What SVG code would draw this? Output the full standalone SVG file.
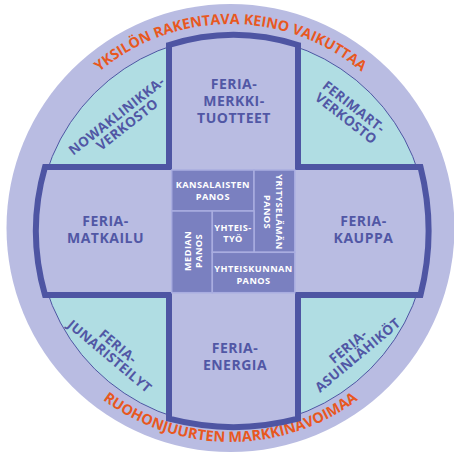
<svg xmlns="http://www.w3.org/2000/svg" width="454" height="454" viewBox="0 0 454 454">
<style>
.lbl{font-family:"Open Sans","Noto Sans",sans-serif;font-weight:700;font-size:14px;fill:#5157a5;text-anchor:middle;letter-spacing:0.5px}
.q{font-family:"Open Sans","Noto Sans",sans-serif;font-weight:700;font-size:13.5px;fill:#5157a5;text-anchor:middle;letter-spacing:0.4px}
.cell{fill:#7a80c0;stroke:#a9ade0;stroke-width:1.5}
.ct{font-family:"Open Sans","Noto Sans",sans-serif;font-weight:700;font-size:9.2px;fill:#ffffff;text-anchor:middle;letter-spacing:0.45px}
.arc{font-family:"Open Sans","Noto Sans",sans-serif;font-weight:700;fill:#e8581f;text-anchor:middle}
</style>
<defs>
<path id="topArc" d="M26.5,228 A204,204 0 0 1 434.5,228"/>
<path id="botArc" d="M16.5,228 A214,214 0 0 0 444.5,228"/>
</defs>
<g id="ring">
<circle cx="230.5" cy="228" r="224" fill="#b9bce2"/>
<text class="arc" font-size="14.3"><textPath href="#topArc" startOffset="50%">YKSILÖN RAKENTAVA KEINO VAIKUTTAA</textPath></text>
<text class="arc" font-size="14.5"><textPath href="#botArc" startOffset="50%">RUOHONJUURTEN MARKKINAVOIMAA</textPath></text>
</g>
<g id="quadrants">
<circle cx="232.5" cy="231" r="195" fill="#b0dde3" stroke="#4e55a3" stroke-width="1"/>
</g>
<g id="cross">
<path d="M169,45 A213,213 0 0 1 298,45 L298,167 L420.5,167 A260,260 0 0 1 420.5,295 L298,295 L298,418.7 A255,255 0 0 1 169,418.7 L169,295 L45,295 A232,232 0 0 1 45,167 L169,167 Z" fill="#b9bce2" stroke="#4e55a3" stroke-width="6" stroke-linejoin="miter"/>
</g>
<g id="node-merkkituotteet">
<text class="lbl" x="234" y="89.3">FERIA-</text>
<text class="lbl" x="234" y="106.3">MERKKI-</text>
<text class="lbl" x="234" y="123.3">TUOTTEET</text>
</g>
<g id="node-matkailu">
<text class="lbl" x="105.5" y="226">FERIA-</text>
<text class="lbl" x="105.5" y="242.7">MATKAILU</text>
</g>
<g id="node-kauppa">
<text class="lbl" x="363.5" y="226">FERIA-</text>
<text class="lbl" x="363.5" y="242.7">KAUPPA</text>
</g>
<g id="node-energia">
<text class="lbl" x="235" y="353.3">FERIA-</text>
<text class="lbl" x="235" y="370">ENERGIA</text>
</g>
<g id="node-nowaklinikka" transform="translate(119.5,119.5) rotate(-38)">
<text class="q" x="0" y="0">NOWAKLINIKKA-</text>
<text class="q" x="3" y="13.5">VERKOSTO</text>
</g>
<g id="node-ferimart" transform="translate(351,110.5) rotate(38)">
<text class="q" x="0" y="0">FERIMART-</text>
<text class="q" x="1" y="14">VERKOSTO</text>
</g>
<g id="node-junaristeilyt" transform="translate(115,350) rotate(40)">
<text class="q" x="0" y="0">FERIA-</text>
<text class="q" x="0" y="13">JUNARISTEILYT</text>
</g>
<g id="node-asuinlahikot" transform="translate(351,350) rotate(-40)">
<text class="q" x="0" y="0">FERIA-</text>
<text class="q" x="2" y="13">ASUINLÄHIKÖT</text>
</g>
<g id="node-kansalaisten">
<rect class="cell" x="171.7" y="170" width="82.3" height="41"/>
<text class="ct" x="212.8" y="188">KANSALAISTEN</text>
<text class="ct" x="212.8" y="199.5">PANOS</text>
</g>
<g id="node-yrityselaman">
<rect class="cell" x="254" y="170" width="40.8" height="82.3"/>
<g transform="translate(275.5,212) rotate(90)">
<text class="ct" x="0" y="0">YRITYSELÄMÄN</text>
<text class="ct" x="0" y="11.5">PANOS</text>
</g>
</g>
<g id="node-median">
<rect class="cell" x="171.7" y="211" width="40.6" height="81.7"/>
<g transform="translate(190.7,251) rotate(-90)">
<text class="ct" x="0" y="0">MEDIAN</text>
<text class="ct" x="0" y="11.5">PANOS</text>
</g>
</g>
<g id="node-yhteistyo">
<rect class="cell" x="212.3" y="211" width="41.7" height="41.3"/>
<text class="ct" x="233" y="230.5">YHTEIS-</text>
<text class="ct" x="233" y="241.5">TYÖ</text>
</g>
<g id="node-yhteiskunnan">
<rect class="cell" x="212.3" y="252.3" width="82.5" height="40.4"/>
<text class="ct" x="253.5" y="272">YHTEISKUNNAN</text>
<text class="ct" x="253.5" y="283.5">PANOS</text>
</g>
<g id="connectors"/>
</svg>
